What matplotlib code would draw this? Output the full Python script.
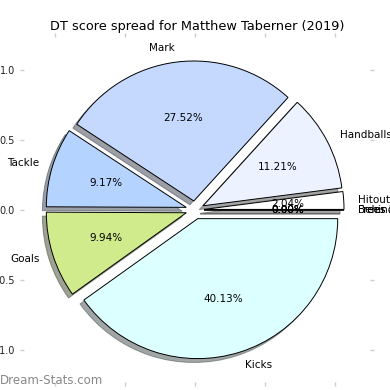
import numpy as np
import matplotlib
matplotlib.use('Agg')
import matplotlib.pyplot as plt

# DT score share per stat category
labels = ['Hitout', 'Handballs', 'Mark', 'Tackle', 'Goals', 'Kicks',
          'Behinds', 'Frees For', 'Frees Against']
share = [2.04, 11.21, 27.52, 9.17, 9.94, 40.13, 0, 0, 0]
colours = ['#ffffff', '#ecf2ff', '#c5d9ff', '#b4d4ff', '#d0eb8c', '#dcffff',
           '#ffffff', '#ffffff', '#ffffff']
player = 'Matthew Taberner'
season = 2019

fig = plt.figure(figsize=(3.9, 3.9), dpi=100)
ax = fig.add_axes([24/390, 8/390, 346/390, 345/390])

explode = [0.065]*len(share)
wedges, texts, autotexts = ax.pie(share, labels=labels, colors=colours,
                                  explode=explode, shadow=True, frame=True,
                                  autopct='%1.2f%%', startangle=0,
                                  wedgeprops={'edgecolor': 'black', 'linewidth': 0.7},
                                  textprops={'fontsize': 7.5})

ax.set_xlim(-1.221, 1.25)
ax.set_ylim(-1.229, 1.236)
ax.set_xticks([-1.0, -0.5, 0.0, 0.5, 1.0])
ax.set_yticks([-1.0, -0.5, 0.0, 0.5, 1.0])
for s in ax.spines.values():
    s.set_visible(False)
ax.tick_params(top=True, right=True, length=3, width=1, color='#cccccc',
               labelsize=7, labelcolor='#222222')

ax.set_title('DT score spread for %s (%d)' % (player, season), fontsize=9.3, pad=5)
fig.text(0.0, 0.016, 'Dream-Stats.com', color='#888888', fontsize=8.5)

plt.savefig('out.png', dpi=100)
